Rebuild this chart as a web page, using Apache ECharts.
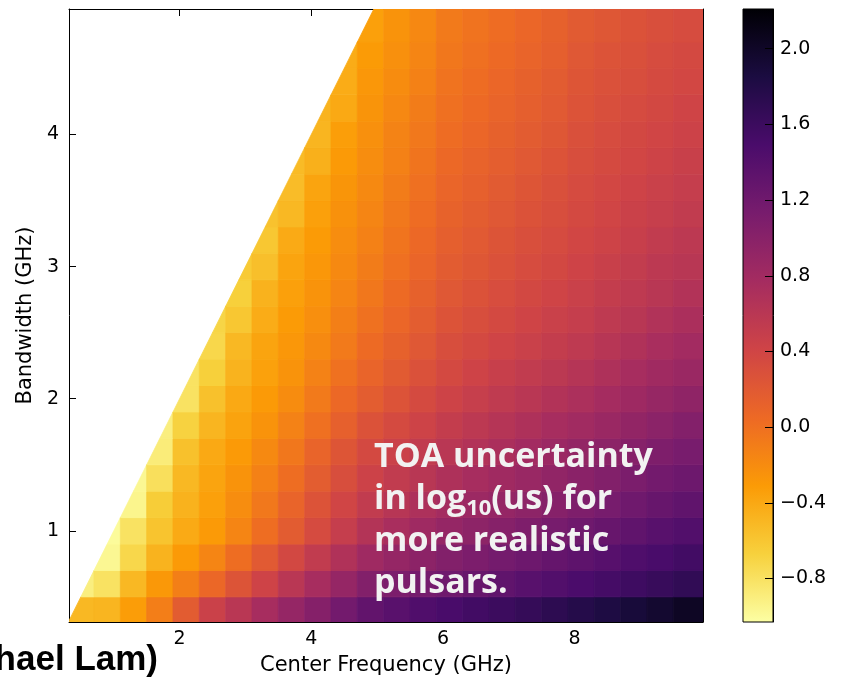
<!DOCTYPE html>
<html>
<head>
<meta charset="utf-8">
<script src="https://cdn.jsdelivr.net/npm/echarts@6.0.0/dist/echarts.min.js"></script>
<style>
  html, body { margin: 0; padding: 0; background: #fff; }
  #main { width: 842px; height: 678px; }
</style>
</head>
<body>
<div id="main"></div>
<script>
// bin edges (GHz)
var fcEdges = [0.3, 0.7, 1.1, 1.5, 1.9, 2.3, 2.7, 3.1, 3.5, 3.9, 4.3, 4.7, 5.1, 5.5, 5.9, 6.3, 6.7, 7.1, 7.5, 7.9, 8.3, 8.7, 9.1, 9.5, 10.0];
var bwEdges = [0.3, 0.5, 0.7, 0.9, 1.1, 1.3, 1.5, 1.7, 1.9, 2.1, 2.3, 2.5, 2.7, 2.9, 3.1, 3.3, 3.5, 3.7, 3.9, 4.1, 4.3, 4.5, 4.7, 4.95];

// log10 TOA uncertainty, one row per bandwidth bin (bottom to top).
// each row runs from the first bin that touches the bw <= fc region to the last frequency bin
var toaRows = [
  [-0.5, -0.48, -0.32, -0.1, 0.18, 0.45, 0.6, 0.75, 0.9, 1.03, 1.17, 1.3, 1.37, 1.44, 1.5, 1.55, 1.6, 1.65, 1.71, 1.77, 1.83, 1.89, 1.95, 2.02],
  [-0.9, -0.8, -0.5, -0.29, -0.11, 0.07, 0.25, 0.42, 0.6, 0.75, 0.9, 1.05, 1.1, 1.15, 1.2, 1.26, 1.32, 1.38, 1.43, 1.48, 1.53, 1.58, 1.63, 1.68],
  [-0.97, -0.72, -0.47, -0.3, -0.15, 0.02, 0.2, 0.37, 0.53, 0.68, 0.82, 0.9, 0.97, 1.05, 1.1, 1.16, 1.22, 1.28, 1.33, 1.39, 1.45, 1.5, 1.55],
  [-1.0, -0.8, -0.58, -0.41, -0.3, -0.15, 0.02, 0.18, 0.34, 0.5, 0.65, 0.74, 0.82, 0.9, 0.96, 1.02, 1.08, 1.14, 1.2, 1.26, 1.32, 1.38, 1.43],
  [-0.95, -0.64, -0.46, -0.34, -0.21, -0.06, 0.1, 0.26, 0.4, 0.53, 0.62, 0.7, 0.78, 0.84, 0.9, 0.96, 1.02, 1.08, 1.14, 1.2, 1.26, 1.32],
  [-0.97, -0.78, -0.5, -0.37, -0.25, -0.12, 0.02, 0.17, 0.31, 0.44, 0.53, 0.61, 0.69, 0.75, 0.81, 0.87, 0.93, 0.99, 1.05, 1.11, 1.17, 1.22],
  [-0.88, -0.56, -0.4, -0.3, -0.18, -0.05, 0.1, 0.24, 0.36, 0.45, 0.53, 0.6, 0.66, 0.72, 0.79, 0.85, 0.91, 0.97, 1.02, 1.08, 1.13],
  [-0.9, -0.68, -0.48, -0.36, -0.25, -0.13, 0.0, 0.14, 0.27, 0.35, 0.43, 0.51, 0.57, 0.63, 0.69, 0.75, 0.8, 0.86, 0.92, 0.98, 1.04],
  [-0.8, -0.56, -0.4, -0.3, -0.2, -0.07, 0.06, 0.17, 0.26, 0.35, 0.43, 0.49, 0.55, 0.6, 0.66, 0.71, 0.77, 0.83, 0.89, 0.95],
  [-0.8, -0.66, -0.47, -0.35, -0.25, -0.13, -0.01, 0.1, 0.19, 0.28, 0.36, 0.42, 0.48, 0.53, 0.58, 0.63, 0.69, 0.75, 0.81, 0.86],
  [-0.72, -0.5, -0.37, -0.28, -0.18, -0.07, 0.04, 0.13, 0.22, 0.31, 0.36, 0.41, 0.46, 0.51, 0.56, 0.62, 0.68, 0.74, 0.79],
  [-0.7, -0.6, -0.42, -0.31, -0.22, -0.11, -0.01, 0.08, 0.17, 0.26, 0.31, 0.36, 0.41, 0.46, 0.5, 0.56, 0.61, 0.67, 0.72],
  [-0.66, -0.46, -0.34, -0.25, -0.15, -0.05, 0.04, 0.13, 0.22, 0.27, 0.32, 0.37, 0.41, 0.46, 0.51, 0.56, 0.61, 0.66],
  [-0.62, -0.55, -0.37, -0.28, -0.18, -0.09, 0.0, 0.09, 0.18, 0.23, 0.28, 0.33, 0.37, 0.42, 0.47, 0.52, 0.57, 0.61],
  [-0.6, -0.41, -0.31, -0.21, -0.12, -0.03, 0.06, 0.15, 0.2, 0.25, 0.3, 0.34, 0.39, 0.43, 0.48, 0.53, 0.57],
  [-0.57, -0.5, -0.34, -0.24, -0.15, -0.06, 0.03, 0.12, 0.17, 0.22, 0.27, 0.31, 0.36, 0.4, 0.45, 0.49, 0.53],
  [-0.53, -0.37, -0.27, -0.18, -0.09, 0.0, 0.09, 0.14, 0.19, 0.24, 0.29, 0.34, 0.38, 0.42, 0.46, 0.5],
  [-0.52, -0.45, -0.3, -0.21, -0.12, -0.03, 0.06, 0.11, 0.16, 0.21, 0.26, 0.31, 0.35, 0.39, 0.43, 0.47],
  [-0.48, -0.33, -0.23, -0.14, -0.06, 0.03, 0.08, 0.13, 0.18, 0.23, 0.29, 0.33, 0.37, 0.4, 0.44],
  [-0.47, -0.4, -0.26, -0.17, -0.09, 0.0, 0.05, 0.1, 0.15, 0.2, 0.26, 0.3, 0.34, 0.37, 0.41],
  [-0.42, -0.28, -0.2, -0.12, -0.02, 0.03, 0.08, 0.13, 0.18, 0.24, 0.28, 0.31, 0.35, 0.38],
  [-0.42, -0.31, -0.23, -0.15, -0.05, 0.0, 0.05, 0.1, 0.15, 0.22, 0.26, 0.29, 0.33, 0.36],
  [-0.34, -0.25, -0.17, -0.07, -0.02, 0.03, 0.08, 0.13, 0.19, 0.23, 0.27, 0.3, 0.33]
];

var xTicks = [2, 4, 6, 8];
var yTicks = [1, 2, 3, 4];
var cbarTicks = [-0.8, -0.4, 0.0, 0.4, 0.8, 1.2, 1.6, 2.0];
var cbarMin = -1.03, cbarMax = 2.21;

// inferno, low value (pale yellow) -> high value (black)
var inferno = ['#fcffa4', '#f7d13d', '#fb9b06', '#ed6925', '#cf4446', '#a52c60', '#781c6d', '#4a0c6b', '#1b0c41', '#000004'];

var cells = [];
toaRows.forEach(function (row, r) {
  var start = fcEdges.length - 1 - row.length;
  row.forEach(function (v, i) {
    var c = start + i;
    cells.push([fcEdges[c], fcEdges[c + 1], bwEdges[r], bwEdges[r + 1], v]);
  });
});

// keep only the part of a bin where bandwidth <= center frequency
function clipToValid(x0, x1, y0, y1) {
  var pts = [[x0, y0], [x1, y0], [x1, y1], [x0, y1]];
  var out = [];
  for (var i = 0; i < pts.length; i++) {
    var p = pts[i], q = pts[(i + 1) % pts.length];
    var fp = p[0] - p[1], fq = q[0] - q[1];
    if (fp >= 0) out.push(p);
    if ((fp >= 0) !== (fq >= 0)) {
      var t = fp / (fp - fq);
      out.push([p[0] + t * (q[0] - p[0]), p[1] + t * (q[1] - p[1])]);
    }
  }
  return out;
}

var chart = echarts.init(document.getElementById('main'), null, { renderer: 'canvas' });

var tickFont = { color: '#000', fontFamily: 'DejaVu Sans', fontSize: 19 };
var frame = { show: true, onZero: false, lineStyle: { color: '#000', width: 1 } };

var option = {
  animation: false,
  backgroundColor: '#fff',
  grid: [
    { left: 69, top: 9, width: 634, height: 613, outerBoundsMode: 'none' },
    { left: 743, top: 9, width: 30, height: 613, outerBoundsMode: 'none' }
  ],
  xAxis: [
    {
      gridIndex: 0, type: 'value', min: 0.32, max: 9.95, position: 'bottom',
      axisLine: frame, splitLine: { show: false },
      axisTick: { inside: true, length: 7, customValues: xTicks, lineStyle: { color: '#000' } },
      axisLabel: Object.assign({ customValues: xTicks, margin: 8 }, tickFont),
      name: 'Center Frequency (GHz)', nameLocation: 'middle', nameGap: 33,
      nameTextStyle: { color: '#000', fontFamily: 'DejaVu Sans', fontSize: 21 }
    },
    {
      gridIndex: 0, type: 'value', min: 0.32, max: 9.95, position: 'top',
      axisLine: frame, splitLine: { show: false },
      axisTick: { inside: true, length: 7, customValues: xTicks, lineStyle: { color: '#000' } },
      axisLabel: { show: false }
    },
    { gridIndex: 1, type: 'value', min: 0, max: 1, show: false }
  ],
  yAxis: [
    {
      gridIndex: 0, type: 'value', min: 0.31, max: 4.95, position: 'left',
      axisLine: frame, splitLine: { show: false },
      axisTick: { inside: true, length: 7, customValues: yTicks, lineStyle: { color: '#000' } },
      axisLabel: Object.assign({ customValues: yTicks, margin: 10 }, tickFont),
      name: 'Bandwidth (GHz)', nameLocation: 'middle', nameGap: 29, nameRotate: 90,
      nameTextStyle: { color: '#000', fontFamily: 'DejaVu Sans', fontSize: 21 }
    },
    {
      gridIndex: 0, type: 'value', min: 0.31, max: 4.95, position: 'right',
      axisLine: frame, splitLine: { show: false },
      axisTick: { inside: true, length: 7, customValues: yTicks, lineStyle: { color: '#000' } },
      axisLabel: { show: false }
    },
    {
      gridIndex: 1, type: 'value', min: cbarMin, max: cbarMax, position: 'right', z: 10,
      axisLine: frame, splitLine: { show: false },
      axisTick: { inside: true, length: 8, customValues: cbarTicks, lineStyle: { color: '#000' } },
      axisLabel: Object.assign({
        customValues: cbarTicks, margin: 7,
        formatter: function (v) { return v.toFixed(1).replace('-', '\u2212'); }
      }, tickFont)
    }
  ],
  visualMap: {
    type: 'continuous', show: false, seriesIndex: 0, dimension: 4,
    min: cbarMin, max: cbarMax, inRange: { color: inferno }
  },
  graphic: [
    {
      type: 'rect', z: -1,
      shape: { x: 743, y: 9, width: 30, height: 613 },
      style: {
        fill: new echarts.graphic.LinearGradient(0, 0, 0, 1,
          inferno.slice().reverse().map(function (c, i) { return { offset: i / (inferno.length - 1), color: c }; })),
        stroke: '#000', lineWidth: 1
      }
    },
    {
      type: 'text', z: 20, x: 374, y: 436,
      style: {
        text: 'TOA uncertainty\nin log{s|10}(us) for\nmore realistic\npulsars.',
        font: 'bold 34px "Open Sans"', fill: '#f2f2f2', lineHeight: 42,
        rich: { s: { font: 'bold 22px "Open Sans"', fill: '#f2f2f2', lineHeight: 20, verticalAlign: 'bottom' } }
      }
    },
    {
      type: 'text', z: 20, x: 158, y: 660,
      style: {
        text: '(Credit: Michael Lam)', font: 'bold 35px "Liberation Sans"', fill: '#000',
        align: 'right', verticalAlign: 'middle'
      }
    }
  ],
  series: [
    {
      type: 'custom',
      xAxisIndex: 0, yAxisIndex: 0,
      clip: true,
      encode: { x: [0, 1], y: [2, 3] },
      data: cells,
      renderItem: function (params, api) {
        var poly = clipToValid(api.value(0), api.value(1), api.value(2), api.value(3));
        if (poly.length < 3) return;
        var color = api.visual('color');
        return {
          type: 'polygon',
          shape: { points: poly.map(function (p) { return api.coord(p); }) },
          style: { fill: color, stroke: color, lineWidth: 0.8 }
        };
      }
    }
  ]
};

chart.setOption(option);
</script>
</body>
</html>
